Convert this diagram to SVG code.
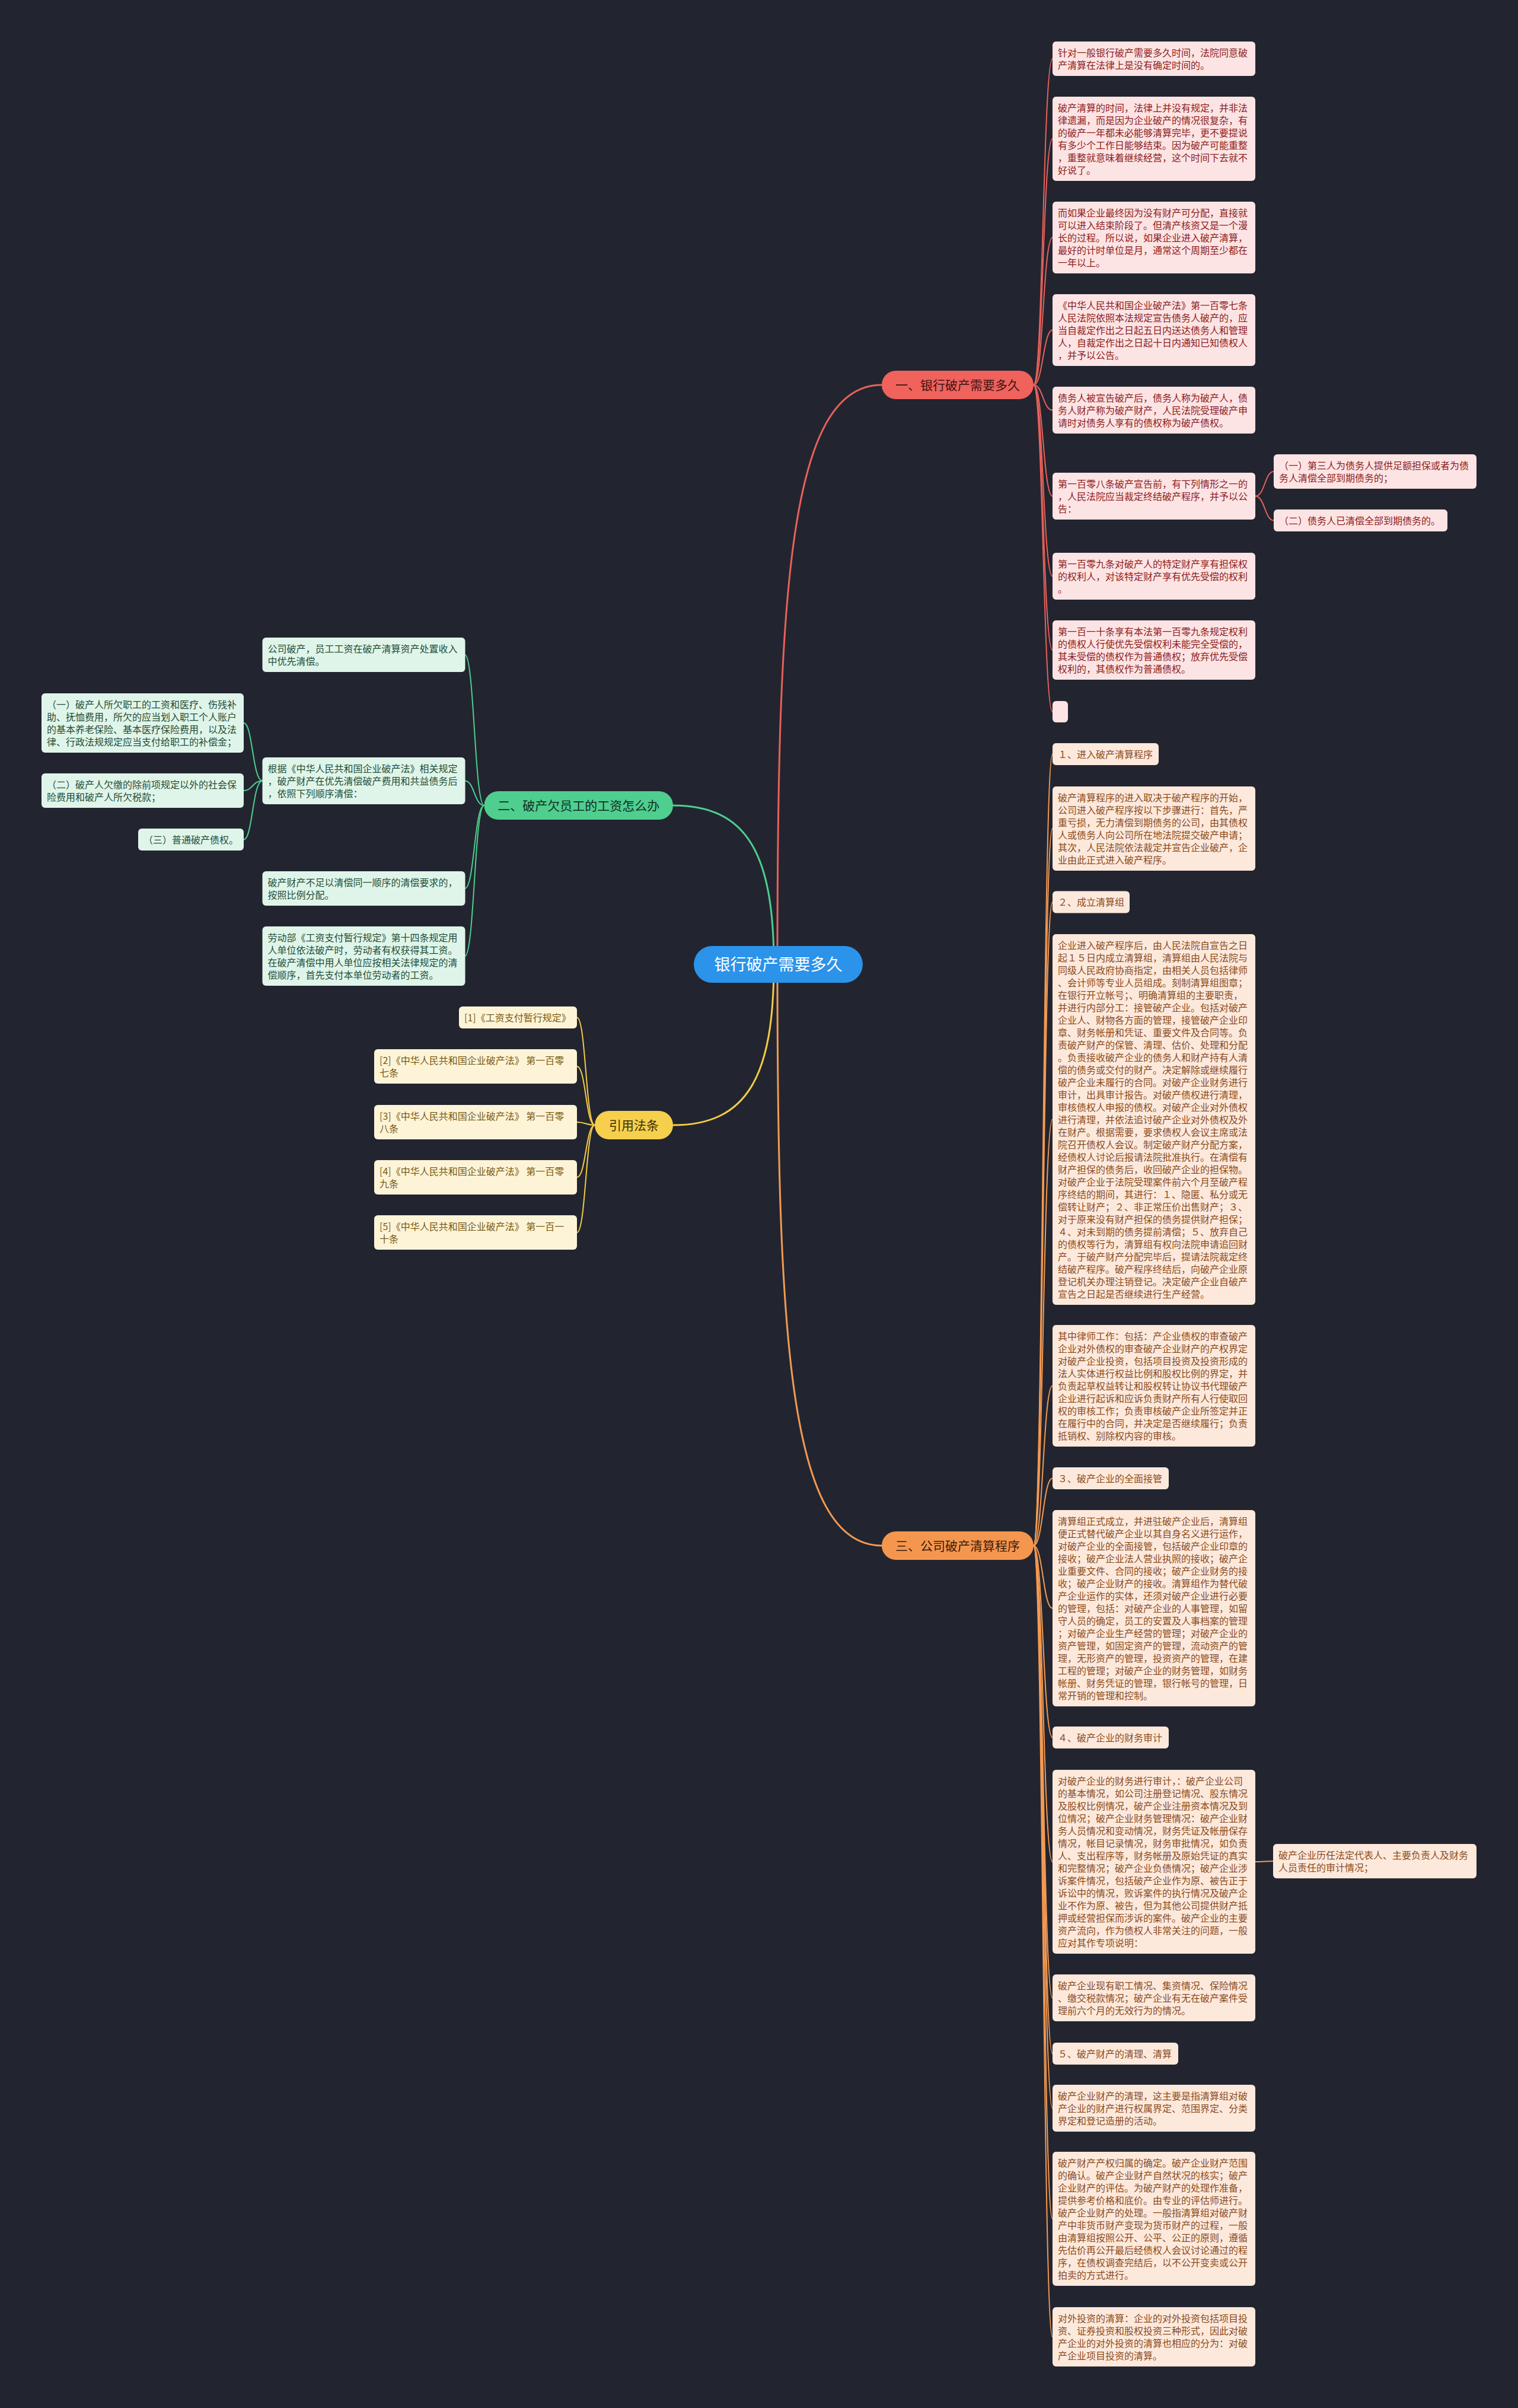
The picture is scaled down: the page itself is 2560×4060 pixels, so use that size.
<svg xmlns="http://www.w3.org/2000/svg" width="2560" height="4060" viewBox="0 0 2560 4060">
<style>
text{font-family:"Noto Sans CJK SC","Noto Sans",sans-serif;font-size:16px}
.c{fill:none;stroke-linecap:round}
.cr{stroke:#e8615b;stroke-width:2}
.cg{stroke:#4fce8f;stroke-width:2}
.cy{stroke:#f3cc45;stroke-width:2}
.co{stroke:#f39a53;stroke-width:2}
.m{stroke-width:3}
.br{fill:#fde4e4}.tr{fill:#8c2020}
.bg{fill:#e0f5ea}.tg{fill:#1f4d36}
.by{fill:#fdf4d8}.ty{fill:#7a5a12}
.bo{fill:#fde9dc}.to{fill:#8a4b1c}
.pill{font-size:21px;text-anchor:middle}
</style>
<rect width="2560" height="4060" fill="#22252f"/>
<g id="connectors">
<path class="c cr m" d="M1311 1626C1311 1000 1330 649 1487 649"/>
<path class="c cg m" d="M1135 1358C1260 1358 1305 1440 1305 1626"/>
<path class="c cy m" d="M1135 1897C1260 1897 1305 1815 1305 1626"/>
<path class="c co m" d="M1311 1626C1311 2250 1330 2606 1487 2606"/>
<path class="c cr" d="M1743 649C1759 649 1759 99 1775 99"/>
<path class="c cr" d="M1743 649C1759 649 1759 234 1775 234"/>
<path class="c cr" d="M1743 649C1759 649 1759 400.5 1775 400.5"/>
<path class="c cr" d="M1743 649C1759 649 1759 556.5 1775 556.5"/>
<path class="c cr" d="M1743 649C1759 649 1759 691.5 1775 691.5"/>
<path class="c cr" d="M1743 649C1759 649 1759 836.5 1775 836.5"/>
<path class="c cr" d="M1743 649C1759 649 1759 971.5 1775 971.5"/>
<path class="c cr" d="M1743 649C1759 649 1759 1096 1775 1096"/>
<path class="c cr" d="M1743 649C1759 649 1759 1200 1775 1200"/>
<path class="c cr" d="M2117 836.5C2133 836.5 2133 795 2148 795"/>
<path class="c cr" d="M2117 836.5C2133 836.5 2133 877.5 2148 877.5"/>
<path class="c cg" d="M816.5 1358C800 1358 800 1104 784 1104"/>
<path class="c cg" d="M816.5 1358C800 1358 800 1316.5 784 1316.5"/>
<path class="c cg" d="M816.5 1358C800 1358 800 1498 784 1498"/>
<path class="c cg" d="M816.5 1358C800 1358 800 1612 784 1612"/>
<path class="c cg" d="M442.5 1316.5C426 1316.5 426 1219 411 1219"/>
<path class="c cg" d="M442.5 1316.5C426 1316.5 426 1333 411 1333"/>
<path class="c cg" d="M442.5 1316.5C426 1316.5 426 1415.5 411 1415.5"/>
<path class="c cy" d="M1003 1897C988 1897 988 1715.5 973 1715.5"/>
<path class="c cy" d="M1003 1897C988 1897 988 1798 973 1798"/>
<path class="c cy" d="M1003 1897C988 1897 988 1892 973 1892"/>
<path class="c cy" d="M1003 1897C988 1897 988 1985 973 1985"/>
<path class="c cy" d="M1003 1897C988 1897 988 2078 973 2078"/>
<path class="c co" d="M1743 2606C1759 2606 1759 1271.5 1775 1271.5"/>
<path class="c co" d="M1743 2606C1759 2606 1759 1397 1775 1397"/>
<path class="c co" d="M1743 2606C1759 2606 1759 1521 1775 1521"/>
<path class="c co" d="M1743 2606C1759 2606 1759 1887.5 1775 1887.5"/>
<path class="c co" d="M1743 2606C1759 2606 1759 2336.5 1775 2336.5"/>
<path class="c co" d="M1743 2606C1759 2606 1759 2492.5 1775 2492.5"/>
<path class="c co" d="M1743 2606C1759 2606 1759 2711.5 1775 2711.5"/>
<path class="c co" d="M1743 2606C1759 2606 1759 2929.5 1775 2929.5"/>
<path class="c co" d="M1743 2606C1759 2606 1759 3139 1775 3139"/>
<path class="c co" d="M1743 2606C1759 2606 1759 3368.5 1775 3368.5"/>
<path class="c co" d="M1743 2606C1759 2606 1759 3462.5 1775 3462.5"/>
<path class="c co" d="M1743 2606C1759 2606 1759 3554.5 1775 3554.5"/>
<path class="c co" d="M1743 2606C1759 2606 1759 3741 1775 3741"/>
<path class="c co" d="M1743 2606C1759 2606 1759 3940 1775 3940"/>
<path class="c co" d="M2117 3139C2132 3139 2132 3138 2147 3138"/>
</g>

<g id="center">
<rect x="1170" y="1595" width="285" height="62" rx="31" fill="#2b93ea"/>
<text x="1312.5" y="1636" fill="#ffffff" style="font-size:27px" text-anchor="middle">银行破产需要多久</text>
</g>

<g id="b1">
<rect x="1487" y="625" width="256" height="48" rx="24" fill="#f0625c"/>
<text class="pill" x="1615" y="657" fill="#3d1414">一、银行破产需要多久</text>
</g>
<g id="b1-1"><rect class="br" x="1775" y="70" width="342" height="58" rx="6"/>
<text class="tr" x="1784" y="94.5"><tspan x="1784">针对一般银行破产需要多久时间，法院同意破</tspan><tspan x="1784" dy="21">产清算在法律上是没有确定时间的。</tspan></text></g>
<g id="b1-2"><rect class="br" x="1775" y="163" width="342" height="142" rx="6"/>
<text class="tr" x="1784" y="187.5"><tspan x="1784">破产清算的时间，法律上并没有规定，并非法</tspan><tspan x="1784" dy="21">律遗漏，而是因为企业破产的情况很复杂，有</tspan><tspan x="1784" dy="21">的破产一年都未必能够清算完毕，更不要提说</tspan><tspan x="1784" dy="21">有多少个工作日能够结束。因为破产可能重整</tspan><tspan x="1784" dy="21">，重整就意味着继续经营，这个时间下去就不</tspan><tspan x="1784" dy="21">好说了。</tspan></text></g>
<g id="b1-3"><rect class="br" x="1775" y="340" width="342" height="121" rx="6"/>
<text class="tr" x="1784" y="364.5"><tspan x="1784">而如果企业最终因为没有财产可分配，直接就</tspan><tspan x="1784" dy="21">可以进入结束阶段了。但清产核资又是一个漫</tspan><tspan x="1784" dy="21">长的过程。所以说，如果企业进入破产清算，</tspan><tspan x="1784" dy="21">最好的计时单位是月，通常这个周期至少都在</tspan><tspan x="1784" dy="21">一年以上。</tspan></text></g>
<g id="b1-4"><rect class="br" x="1775" y="496" width="342" height="121" rx="6"/>
<text class="tr" x="1784" y="520.5"><tspan x="1784">《中华人民共和国企业破产法》第一百零七条</tspan><tspan x="1784" dy="21">人民法院依照本法规定宣告债务人破产的，应</tspan><tspan x="1784" dy="21">当自裁定作出之日起五日内送达债务人和管理</tspan><tspan x="1784" dy="21">人，自裁定作出之日起十日内通知已知债权人</tspan><tspan x="1784" dy="21">，并予以公告。</tspan></text></g>
<g id="b1-5"><rect class="br" x="1775" y="652" width="342" height="79" rx="6"/>
<text class="tr" x="1784" y="676.5"><tspan x="1784">债务人被宣告破产后，债务人称为破产人，债</tspan><tspan x="1784" dy="21">务人财产称为破产财产，人民法院受理破产申</tspan><tspan x="1784" dy="21">请时对债务人享有的债权称为破产债权。</tspan></text></g>
<g id="b1-6"><rect class="br" x="1775" y="797" width="342" height="79" rx="6"/>
<text class="tr" x="1784" y="821.5"><tspan x="1784">第一百零八条破产宣告前，有下列情形之一的</tspan><tspan x="1784" dy="21">，人民法院应当裁定终结破产程序，并予以公</tspan><tspan x="1784" dy="21">告：</tspan></text></g>
<g id="b1-6-1"><rect class="br" x="2148" y="766" width="342" height="58" rx="6"/>
<text class="tr" x="2157" y="790.5"><tspan x="2157">（一）第三人为债务人提供足额担保或者为债</tspan><tspan x="2157" dy="21">务人清偿全部到期债务的；</tspan></text></g>
<g id="b1-6-2"><rect class="br" x="2148" y="859" width="293" height="37" rx="6"/>
<text class="tr" x="2157" y="883.5">（二）债务人已清偿全部到期债务的。</text></g>
<g id="b1-7"><rect class="br" x="1775" y="932" width="342" height="79" rx="6"/>
<text class="tr" x="1784" y="956.5"><tspan x="1784">第一百零九条对破产人的特定财产享有担保权</tspan><tspan x="1784" dy="21">的权利人，对该特定财产享有优先受偿的权利</tspan><tspan x="1784" dy="21">。</tspan></text></g>
<g id="b1-8"><rect class="br" x="1775" y="1046" width="342" height="100" rx="6"/>
<text class="tr" x="1784" y="1070.5"><tspan x="1784">第一百一十条享有本法第一百零九条规定权利</tspan><tspan x="1784" dy="21">的债权人行使优先受偿权利未能完全受偿的，</tspan><tspan x="1784" dy="21">其未受偿的债权作为普通债权；放弃优先受偿</tspan><tspan x="1784" dy="21">权利的，其债权作为普通债权。</tspan></text></g>
<g id="b1-9"><rect class="br" x="1775" y="1182" width="26" height="36" rx="6"/></g>

<g id="b2">
<rect x="816.5" y="1334" width="318.5" height="48" rx="24" fill="#4fce8f"/>
<text class="pill" x="975.75" y="1366" fill="#10301f">二、破产欠员工的工资怎么办</text>
</g>
<g id="b2-1"><rect class="bg" x="442.5" y="1075" width="342" height="58" rx="6"/>
<text class="tg" x="451.5" y="1099.5"><tspan x="451.5">公司破产，员工工资在破产清算资产处置收入</tspan><tspan x="451.5" dy="21">中优先清偿。</tspan></text></g>
<g id="b2-2"><rect class="bg" x="442.5" y="1277" width="342" height="79" rx="6"/>
<text class="tg" x="451.5" y="1301.5"><tspan x="451.5">根据《中华人民共和国企业破产法》相关规定</tspan><tspan x="451.5" dy="21">，破产财产在优先清偿破产费用和共益债务后</tspan><tspan x="451.5" dy="21">，依照下列顺序清偿：</tspan></text></g>
<g id="b2-2-1"><rect class="bg" x="70" y="1169" width="341" height="100" rx="6"/>
<text class="tg" x="79" y="1193.5"><tspan x="79">（一）破产人所欠职工的工资和医疗、伤残补</tspan><tspan x="79" dy="21">助、抚恤费用，所欠的应当划入职工个人账户</tspan><tspan x="79" dy="21">的基本养老保险、基本医疗保险费用，以及法</tspan><tspan x="79" dy="21">律、行政法规规定应当支付给职工的补偿金；</tspan></text></g>
<g id="b2-2-2"><rect class="bg" x="70" y="1304" width="341" height="58" rx="6"/>
<text class="tg" x="79" y="1328.5"><tspan x="79">（二）破产人欠缴的除前项规定以外的社会保</tspan><tspan x="79" dy="21">险费用和破产人所欠税款；</tspan></text></g>
<g id="b2-2-3"><rect class="bg" x="233" y="1397" width="178" height="37" rx="6"/>
<text class="tg" x="242" y="1421.5">（三）普通破产债权。</text></g>
<g id="b2-3"><rect class="bg" x="442.5" y="1469" width="342" height="58" rx="6"/>
<text class="tg" x="451.5" y="1493.5"><tspan x="451.5">破产财产不足以清偿同一顺序的清偿要求的，</tspan><tspan x="451.5" dy="21">按照比例分配。</tspan></text></g>
<g id="b2-4"><rect class="bg" x="442.5" y="1562" width="342" height="100" rx="6"/>
<text class="tg" x="451.5" y="1586.5"><tspan x="451.5">劳动部《工资支付暂行规定》第十四条规定用</tspan><tspan x="451.5" dy="21">人单位依法破产时，劳动者有权获得其工资。</tspan><tspan x="451.5" dy="21">在破产清偿中用人单位应按相关法律规定的清</tspan><tspan x="451.5" dy="21">偿顺序，首先支付本单位劳动者的工资。</tspan></text></g>

<g id="b4">
<rect x="1003" y="1873" width="132" height="48" rx="24" fill="#f6d04d"/>
<text class="pill" x="1069" y="1905" fill="#3a2f08">引用法条</text>
</g>
<g id="b4-1"><rect class="by" x="774" y="1697" width="199" height="37" rx="6"/>
<text class="ty" x="783" y="1721.5">[1]《工资支付暂行规定》</text></g>
<g id="b4-2"><rect class="by" x="631" y="1769" width="342" height="58" rx="6"/>
<text class="ty" x="640" y="1793.5"><tspan x="640">[2]《中华人民共和国企业破产法》 第一百零</tspan><tspan x="640" dy="21">七条</tspan></text></g>
<g id="b4-3"><rect class="by" x="631" y="1863" width="342" height="58" rx="6"/>
<text class="ty" x="640" y="1887.5"><tspan x="640">[3]《中华人民共和国企业破产法》 第一百零</tspan><tspan x="640" dy="21">八条</tspan></text></g>
<g id="b4-4"><rect class="by" x="631" y="1956" width="342" height="58" rx="6"/>
<text class="ty" x="640" y="1980.5"><tspan x="640">[4]《中华人民共和国企业破产法》 第一百零</tspan><tspan x="640" dy="21">九条</tspan></text></g>
<g id="b4-5"><rect class="by" x="631" y="2049" width="342" height="58" rx="6"/>
<text class="ty" x="640" y="2073.5"><tspan x="640">[5]《中华人民共和国企业破产法》 第一百一</tspan><tspan x="640" dy="21">十条</tspan></text></g>

<g id="b3">
<rect x="1487" y="2582" width="256" height="48" rx="24" fill="#f5964f"/>
<text class="pill" x="1615" y="2614" fill="#3a200c">三、公司破产清算程序</text>
</g>
<g id="b3-1"><rect class="bo" x="1775" y="1253" width="179" height="37" rx="6"/>
<text class="to" x="1784" y="1277.5">１、进入破产清算程序</text></g>
<g id="b3-2"><rect class="bo" x="1775" y="1326" width="342" height="142" rx="6"/>
<text class="to" x="1784" y="1350.5"><tspan x="1784">破产清算程序的进入取决于破产程序的开始，</tspan><tspan x="1784" dy="21">公司进入破产程序按以下步骤进行：首先，严</tspan><tspan x="1784" dy="21">重亏损，无力清偿到期债务的公司，由其债权</tspan><tspan x="1784" dy="21">人或债务人向公司所在地法院提交破产申请；</tspan><tspan x="1784" dy="21">其次，人民法院依法裁定并宣告企业破产，企</tspan><tspan x="1784" dy="21">业由此正式进入破产程序。</tspan></text></g>
<g id="b3-3"><rect class="bo" x="1775" y="1502.5" width="130" height="37" rx="6"/>
<text class="to" x="1784" y="1527">２、成立清算组</text></g>
<g id="b3-4"><rect class="bo" x="1775" y="1575" width="342" height="625" rx="6"/>
<text class="to" x="1784" y="1599.5"><tspan x="1784">企业进入破产程序后，由人民法院自宣告之日</tspan><tspan x="1784" dy="21">起１５日内成立清算组，清算组由人民法院与</tspan><tspan x="1784" dy="21">同级人民政府协商指定，由相关人员包括律师</tspan><tspan x="1784" dy="21">、会计师等专业人员组成。刻制清算组图章；</tspan><tspan x="1784" dy="21">在银行开立帐号；、明确清算组的主要职责，</tspan><tspan x="1784" dy="21">并进行内部分工：接管破产企业。包括对破产</tspan><tspan x="1784" dy="21">企业人、财物各方面的管理，接管破产企业印</tspan><tspan x="1784" dy="21">章、财务帐册和凭证、重要文件及合同等。负</tspan><tspan x="1784" dy="21">责破产财产的保管、清理、估价、处理和分配</tspan><tspan x="1784" dy="21">。负责接收破产企业的债务人和财产持有人清</tspan><tspan x="1784" dy="21">偿的债务或交付的财产。决定解除或继续履行</tspan><tspan x="1784" dy="21">破产企业未履行的合同。对破产企业财务进行</tspan><tspan x="1784" dy="21">审计，出具审计报告。对破产债权进行清理，</tspan><tspan x="1784" dy="21">审核债权人申报的债权。对破产企业对外债权</tspan><tspan x="1784" dy="21">进行清理，并依法追讨破产企业对外债权及外</tspan><tspan x="1784" dy="21">在财产。根据需要，要求债权人会议主席或法</tspan><tspan x="1784" dy="21">院召开债权人会议。制定破产财产分配方案，</tspan><tspan x="1784" dy="21">经债权人讨论后报请法院批准执行。在清偿有</tspan><tspan x="1784" dy="21">财产担保的债务后，收回破产企业的担保物。</tspan><tspan x="1784" dy="21">对破产企业于法院受理案件前六个月至破产程</tspan><tspan x="1784" dy="21">序终结的期间，其进行：１、隐匿、私分或无</tspan><tspan x="1784" dy="21">偿转让财产；２、非正常压价出售财产；３、</tspan><tspan x="1784" dy="21">对于原来没有财产担保的债务提供财产担保；</tspan><tspan x="1784" dy="21">４、对未到期的债务提前清偿；５、放弃自己</tspan><tspan x="1784" dy="21">的债权等行为，清算组有权向法院申请追回财</tspan><tspan x="1784" dy="21">产。于破产财产分配完毕后，提请法院裁定终</tspan><tspan x="1784" dy="21">结破产程序。破产程序终结后，向破产企业原</tspan><tspan x="1784" dy="21">登记机关办理注销登记。决定破产企业自破产</tspan><tspan x="1784" dy="21">宣告之日起是否继续进行生产经营。</tspan></text></g>
<g id="b3-5"><rect class="bo" x="1775" y="2234" width="342" height="205" rx="6"/>
<text class="to" x="1784" y="2258.5"><tspan x="1784">其中律师工作：包括：产企业债权的审查破产</tspan><tspan x="1784" dy="21">企业对外债权的审查破产企业财产的产权界定</tspan><tspan x="1784" dy="21">对破产企业投资，包括项目投资及投资形成的</tspan><tspan x="1784" dy="21">法人实体进行权益比例和股权比例的界定，并</tspan><tspan x="1784" dy="21">负责起草权益转让和股权转让协议书代理破产</tspan><tspan x="1784" dy="21">企业进行起诉和应诉负责财产所有人行使取回</tspan><tspan x="1784" dy="21">权的审核工作；负责审核破产企业所签定并正</tspan><tspan x="1784" dy="21">在履行中的合同，并决定是否继续履行；负责</tspan><tspan x="1784" dy="21">抵销权、别除权内容的审核。</tspan></text></g>
<g id="b3-6"><rect class="bo" x="1775" y="2474" width="196" height="37" rx="6"/>
<text class="to" x="1784" y="2498.5">３、破产企业的全面接管</text></g>
<g id="b3-7"><rect class="bo" x="1775" y="2546" width="342" height="331" rx="6"/>
<text class="to" x="1784" y="2570.5"><tspan x="1784">清算组正式成立，并进驻破产企业后，清算组</tspan><tspan x="1784" dy="21">便正式替代破产企业以其自身名义进行运作，</tspan><tspan x="1784" dy="21">对破产企业的全面接管，包括破产企业印章的</tspan><tspan x="1784" dy="21">接收；破产企业法人营业执照的接收；破产企</tspan><tspan x="1784" dy="21">业重要文件、合同的接收；破产企业财务的接</tspan><tspan x="1784" dy="21">收；破产企业财产的接收。清算组作为替代破</tspan><tspan x="1784" dy="21">产企业运作的实体，还须对破产企业进行必要</tspan><tspan x="1784" dy="21">的管理，包括：对破产企业的人事管理，如留</tspan><tspan x="1784" dy="21">守人员的确定，员工的安置及人事档案的管理</tspan><tspan x="1784" dy="21">；对破产企业生产经营的管理；对破产企业的</tspan><tspan x="1784" dy="21">资产管理，如固定资产的管理，流动资产的管</tspan><tspan x="1784" dy="21">理，无形资产的管理，投资资产的管理，在建</tspan><tspan x="1784" dy="21">工程的管理；对破产企业的财务管理，如财务</tspan><tspan x="1784" dy="21">帐册、财务凭证的管理，银行帐号的管理，日</tspan><tspan x="1784" dy="21">常开销的管理和控制。</tspan></text></g>
<g id="b3-8"><rect class="bo" x="1775" y="2911" width="196" height="37" rx="6"/>
<text class="to" x="1784" y="2935.5">４、破产企业的财务审计</text></g>
<g id="b3-9"><rect class="bo" x="1775" y="2984" width="342" height="310" rx="6"/>
<text class="to" x="1784" y="3008.5"><tspan x="1784">对破产企业的财务进行审计，：破产企业公司</tspan><tspan x="1784" dy="21">的基本情况，如公司注册登记情况、股东情况</tspan><tspan x="1784" dy="21">及股权比例情况，破产企业注册资本情况及到</tspan><tspan x="1784" dy="21">位情况；破产企业财务管理情况：破产企业财</tspan><tspan x="1784" dy="21">务人员情况和变动情况，财务凭证及帐册保存</tspan><tspan x="1784" dy="21">情况，帐目记录情况，财务审批情况，如负责</tspan><tspan x="1784" dy="21">人、支出程序等，财务帐册及原始凭证的真实</tspan><tspan x="1784" dy="21">和完整情况；破产企业负债情况；破产企业涉</tspan><tspan x="1784" dy="21">诉案件情况，包括破产企业作为原、被告正于</tspan><tspan x="1784" dy="21">诉讼中的情况，败诉案件的执行情况及破产企</tspan><tspan x="1784" dy="21">业不作为原、被告，但为其他公司提供财产抵</tspan><tspan x="1784" dy="21">押或经营担保而涉诉的案件。破产企业的主要</tspan><tspan x="1784" dy="21">资产流向，作为债权人非常关注的问题，一般</tspan><tspan x="1784" dy="21">应对其作专项说明：</tspan></text></g>
<g id="b3-9-1"><rect class="bo" x="2147" y="3109" width="343" height="58" rx="6"/>
<text class="to" x="2156" y="3133.5"><tspan x="2156">破产企业历任法定代表人、主要负责人及财务</tspan><tspan x="2156" dy="21">人员责任的审计情况；</tspan></text></g>
<g id="b3-10"><rect class="bo" x="1775" y="3329" width="342" height="79" rx="6"/>
<text class="to" x="1784" y="3353.5"><tspan x="1784">破产企业现有职工情况、集资情况、保险情况</tspan><tspan x="1784" dy="21">、缴交税款情况；破产企业有无在破产案件受</tspan><tspan x="1784" dy="21">理前六个月的无效行为的情况。</tspan></text></g>
<g id="b3-11"><rect class="bo" x="1775" y="3444" width="212" height="37" rx="6"/>
<text class="to" x="1784" y="3468.5">５、破产财产的清理、清算</text></g>
<g id="b3-12"><rect class="bo" x="1775" y="3515" width="342" height="79" rx="6"/>
<text class="to" x="1784" y="3539.5"><tspan x="1784">破产企业财产的清理，这主要是指清算组对破</tspan><tspan x="1784" dy="21">产企业的财产进行权属界定、范围界定、分类</tspan><tspan x="1784" dy="21">界定和登记造册的活动。</tspan></text></g>
<g id="b3-13"><rect class="bo" x="1775" y="3628" width="342" height="226" rx="6"/>
<text class="to" x="1784" y="3652.5"><tspan x="1784">破产财产产权归属的确定。破产企业财产范围</tspan><tspan x="1784" dy="21">的确认。破产企业财产自然状况的核实；破产</tspan><tspan x="1784" dy="21">企业财产的评估。为破产财产的处理作准备，</tspan><tspan x="1784" dy="21">提供参考价格和底价。由专业的评估师进行。</tspan><tspan x="1784" dy="21">破产企业财产的处理。一般指清算组对破产财</tspan><tspan x="1784" dy="21">产中非货币财产变现为货币财产的过程，一般</tspan><tspan x="1784" dy="21">由清算组按照公开、公平、公正的原则，遵循</tspan><tspan x="1784" dy="21">先估价再公开最后经债权人会议讨论通过的程</tspan><tspan x="1784" dy="21">序，在债权调查完结后，以不公开变卖或公开</tspan><tspan x="1784" dy="21">拍卖的方式进行。</tspan></text></g>
<g id="b3-14"><rect class="bo" x="1775" y="3890" width="342" height="100" rx="6"/>
<text class="to" x="1784" y="3914.5"><tspan x="1784">对外投资的清算：企业的对外投资包括项目投</tspan><tspan x="1784" dy="21">资、证券投资和股权投资三种形式，因此对破</tspan><tspan x="1784" dy="21">产企业的对外投资的清算也相应的分为：对破</tspan><tspan x="1784" dy="21">产企业项目投资的清算。</tspan></text></g>
</svg>
